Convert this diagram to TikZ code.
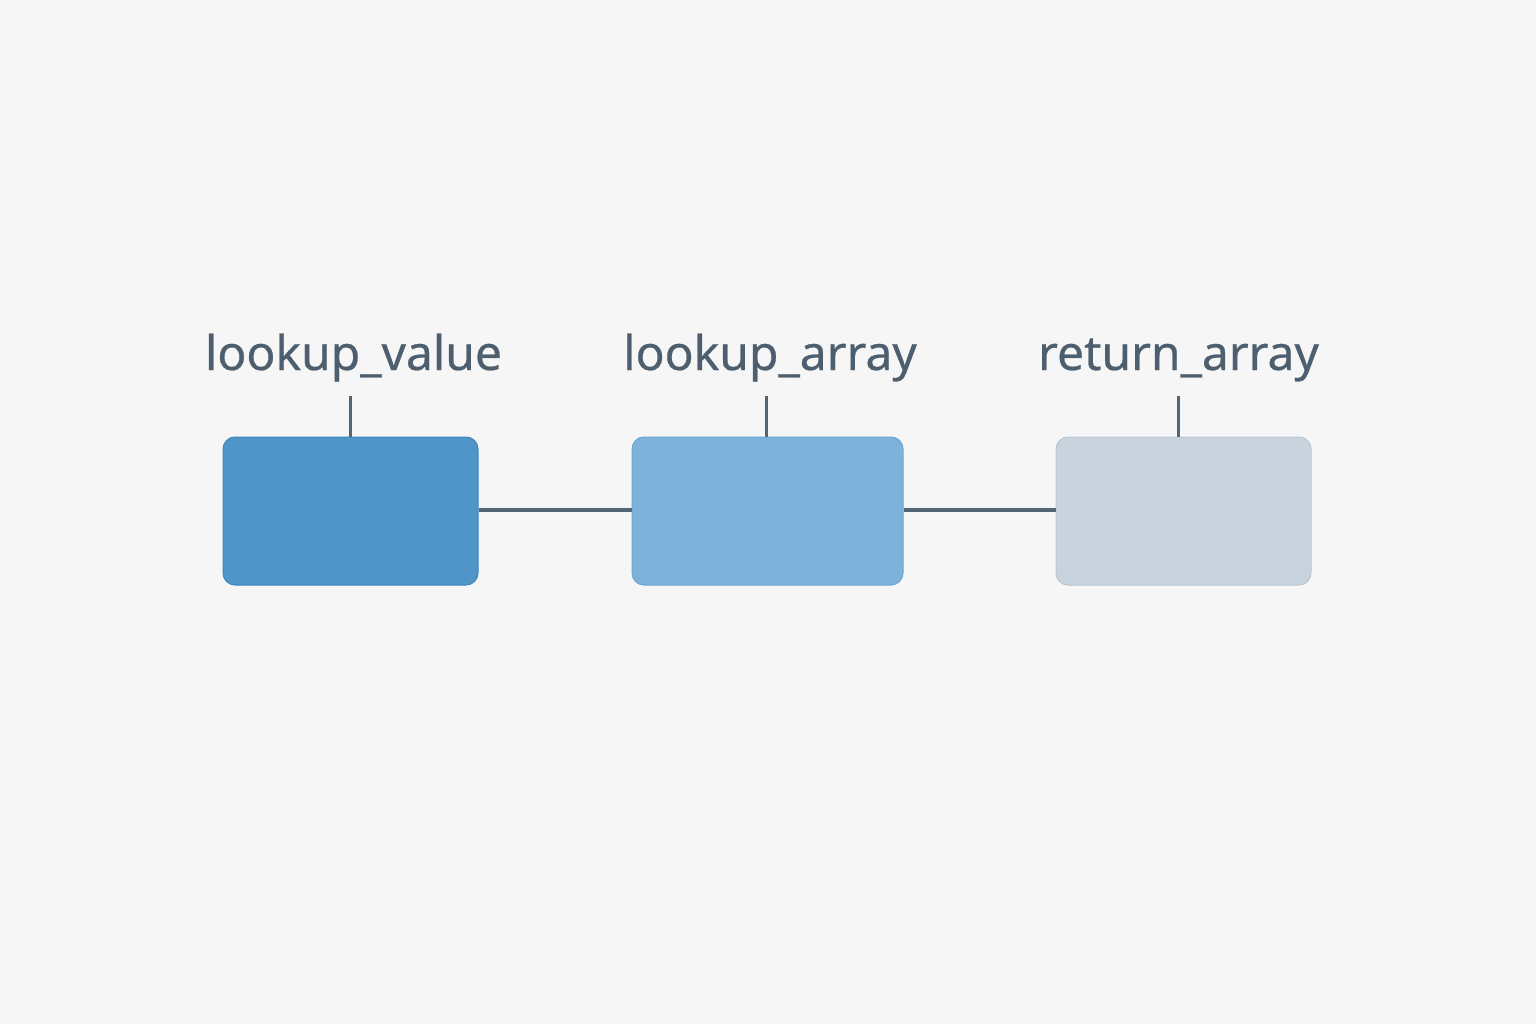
\documentclass[tikz,border=0pt]{standalone}
\usepackage{fontspec}
\setmainfont{Noto Sans}[FakeBold=0.5]
\definecolor{bg}{HTML}{F6F6F7}
\definecolor{lbl}{HTML}{4D5F6E}
\definecolor{wire}{HTML}{526676}
\definecolor{fillA}{HTML}{4F95C8}
\definecolor{drawA}{HTML}{3F86C0}
\definecolor{fillB}{HTML}{7DB3DA}
\definecolor{drawB}{HTML}{6AA5D2}
\definecolor{fillC}{HTML}{C8D3DD}
\definecolor{drawC}{HTML}{B9C6D2}
\tikzset{
  argbox/.style={rectangle, rounded corners=12pt, line width=1pt, minimum height=148pt, inner sep=0pt},
  arglabel/.style={anchor=base, text=lbl, inner sep=0pt, font=\fontsize{48}{56}\selectfont},
  wireline/.style={draw=wire, line width=4pt},
  tickline/.style={draw=wire, line width=3pt},
}
\begin{document}
\begin{tikzpicture}[x=1pt, y=-1pt]
\fill[bg] (0,0) rectangle (1536,1024);
\useasboundingbox (0,0) rectangle (1536,1024);
\node[argbox, fill=fillA, draw=drawA, minimum width=255pt] (b1) at (350.5,511) {};
\node[argbox, fill=fillB, draw=drawB, minimum width=271pt] (b2) at (767.5,511) {};
\node[argbox, fill=fillC, draw=drawC, minimum width=255pt] (b3) at (1183.5,511) {};
\node[arglabel] (l1) at (353.5,370) {lookup\_value};
\node[arglabel] (l2) at (770,370) {lookup\_array};
\node[arglabel] (l3) at (1178.5,370) {return\_array};
\coordinate (t1) at (350.5,396);
\coordinate (t2) at (766.5,396);
\coordinate (t3) at (1178.5,396);
\draw[tickline] (t1) -- (t1 |- b1.north);
\draw[tickline] (t2) -- (t2 |- b2.north);
\draw[tickline] (t3) -- (t3 |- b3.north);
\draw[wireline] ([yshift=1pt]b1.east) -- ([yshift=1pt]b2.west);
\draw[wireline] ([yshift=1pt]b2.east) -- ([yshift=1pt]b3.west);
\end{tikzpicture}
\end{document}
